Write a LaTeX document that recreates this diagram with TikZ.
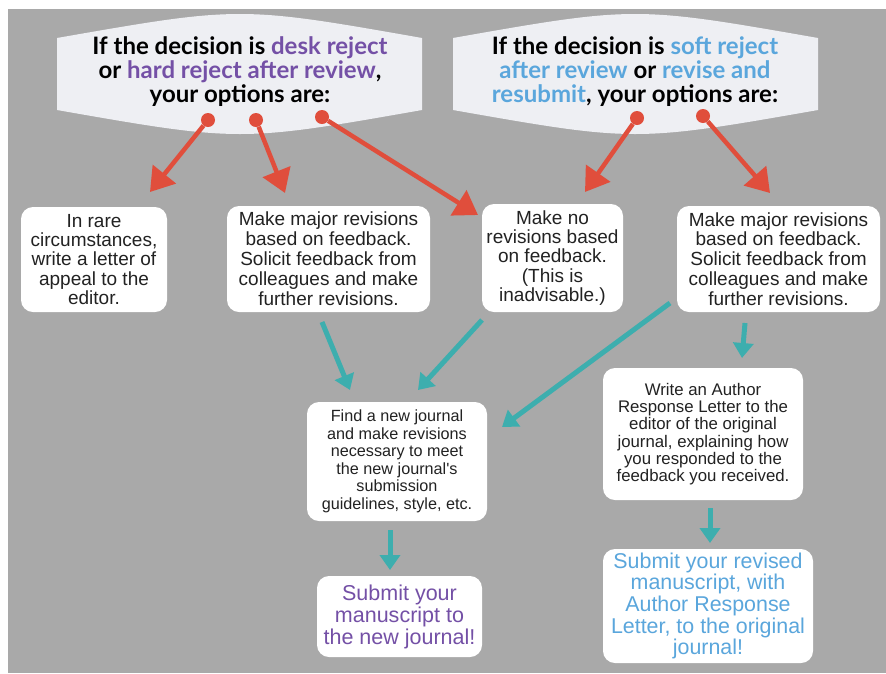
\documentclass[tikz,border=0pt]{standalone}
\usepackage{fontspec}
\setmainfont{Liberation Sans}
\newfontfamily\headfont{Lato}
\usetikzlibrary{arrows.meta, positioning}
\definecolor{bggray}{HTML}{A9A9A9}
\definecolor{bannerfill}{HTML}{EEEFF3}
\definecolor{redarrow}{HTML}{E04E3C}
\definecolor{tealarrow}{HTML}{3DAEAE}
\definecolor{purpletext}{HTML}{7450A6}
\definecolor{bluetext}{HTML}{5AA6DC}
\definecolor{boxtext}{HTML}{222222}
\tikzstyle{box} = [fill=white, rectangle, rounded corners=12pt, align=center, text=boxtext, inner sep=0pt]
\tikzstyle{banner} = [fill=bannerfill]
\tikzstyle{headtext} = [align=center, font=\headfont\bfseries\fontsize{24}{24}\selectfont]
\tikzstyle{dot} = [circle, fill=redarrow, minimum size=14pt, inner sep=0pt]
\tikzstyle{redline} = [draw=redarrow, line width=4.5pt, -{Triangle[length=23pt,width=29pt]}]
\tikzstyle{tealline} = [draw=tealarrow, line width=5pt, -{Triangle[length=15pt,width=20pt]}]
\newcommand{\hard}[1]{\textcolor{purpletext}{#1}}
\newcommand{\soft}[1]{\textcolor{bluetext}{#1}}

\begin{document}
\begin{tikzpicture}[x=1pt,y=-1pt]
      \useasboundingbox (0,0) rectangle (886,673);
      \fill[white] (0,0) rectangle (886,673);
      \fill[bggray] (8,9) rectangle (886,673);
      \path[banner] (57,38) .. controls (240,6) .. (422,38) -- (422,110)
        .. controls (240,142) .. (57,110) -- cycle;
      \path[banner] (453,38) .. controls (635,6) .. (818,38) -- (818,110)
        .. controls (635,142) .. (453,110) -- cycle;
      \node[headtext] (hl) at (240,72) {If the decision is \hard{desk reject}\\
        or \hard{hard reject after review},\\ your options are:};
      \node[headtext] (hr) at (635,72) {If the decision is \soft{soft reject}\\
        \soft{after review} or \soft{revise and}\\ \soft{resubmit}, your options are:};
      \node[box, minimum width=146pt, minimum height=105pt,
        font=\fontsize{19}{19.3}\selectfont] (appeal) at (94,259.5)
        {In rare\\ circumstances,\\ write a letter of\\ appeal to the\\ editor.};
      \node[box, minimum width=203pt, minimum height=106pt,
        font=\fontsize{19}{20}\selectfont] (major) at (328.5,259)
        {Make major revisions\\ based on feedback.\\ Solicit feedback from\\ colleagues and make\\ further revisions.};
      \node[box, minimum width=141pt, minimum height=108pt,
        font=\fontsize{19}{19.3}\selectfont] (none) at (552.5,258)
        {Make no\\ revisions based\\ on feedback.\\ (This is\\ inadvisable.)};
      \node[box, minimum width=203pt, minimum height=106pt,
        font=\fontsize{19}{19.8}\selectfont] (major2) at (778.5,259)
        {Make major revisions\\ based on feedback.\\ Solicit feedback from\\ colleagues and make\\ further revisions.};
      \node[box, minimum width=180pt, minimum height=119pt,
        font=\fontsize{16.2}{17.5}\selectfont] (newj) at (397,461.5)
        {Find a new journal\\ and make revisions\\ necessary to meet\\ the new journal\textquotesingle s\\ submission\\ guidelines, style, etc.};
      \node[box, minimum width=165pt, minimum height=81pt, text=purpletext,
        font=\fontsize{21.5}{22}\selectfont] (subnew) at (399.5,616.5)
        {Submit your\\ manuscript to\\ the new journal!};
      \node[box, minimum width=200pt, minimum height=132pt,
        font=\fontsize{16.8}{17.3}\selectfont] (letter) at (703,434)
        {Write an Author\\ Response Letter to the\\ editor of the original\\ journal, explaining how\\ you responded to the\\ feedback you received.};
      \node[box, minimum width=210pt, minimum height=114pt, text=bluetext,
        font=\fontsize{21.4}{21.7}\selectfont] (subold) at (708,606)
        {Submit your revised\\ manuscript, with\\ Author Response\\ Letter, to the original\\ journal!};
      \node[dot] (d1) at (208,120) {};
      \node[dot] (d2) at (256,120) {};
      \node[dot] (d3) at (322,117) {};
      \node[dot] (d4) at (637,118) {};
      \node[dot] (d5) at (703,116) {};
      \coordinate (r1) at (150,192);
      \coordinate (r2) at (285,193);
      \coordinate (r3) at (478,215);
      \coordinate (r4) at (585,192);
      \coordinate (r5) at (770,193);
      \draw[redline] (d1) -- (r1);
      \draw[redline] (d2) -- (r2);
      \draw[redline] (d3) -- (r3);
      \draw[redline] (d4) -- (r4);
      \draw[redline] (d5) -- (r5);
      \coordinate (s1) at (322,322);
      \coordinate (e1) at (350,390);
      \coordinate (s2) at (482,320);
      \coordinate (e2) at (418,390);
      \coordinate (s3) at (670,303);
      \coordinate (e3) at (502,427);
      \coordinate (s4) at (745,323);
      \coordinate (e4) at (742,358);
      \coordinate (s5) at (390,530);
      \coordinate (e5) at (390,570);
      \coordinate (s6) at (710,508);
      \coordinate (e6) at (710,543);
      \draw[tealline] (s1) -- (e1);
      \draw[tealline] (s2) -- (e2);
      \draw[tealline] (s3) -- (e3);
      \draw[tealline] (s4) -- (e4);
      \draw[tealline] (s5) -- (e5);
      \draw[tealline] (s6) -- (e6);
    \end{tikzpicture}
\end{document}
